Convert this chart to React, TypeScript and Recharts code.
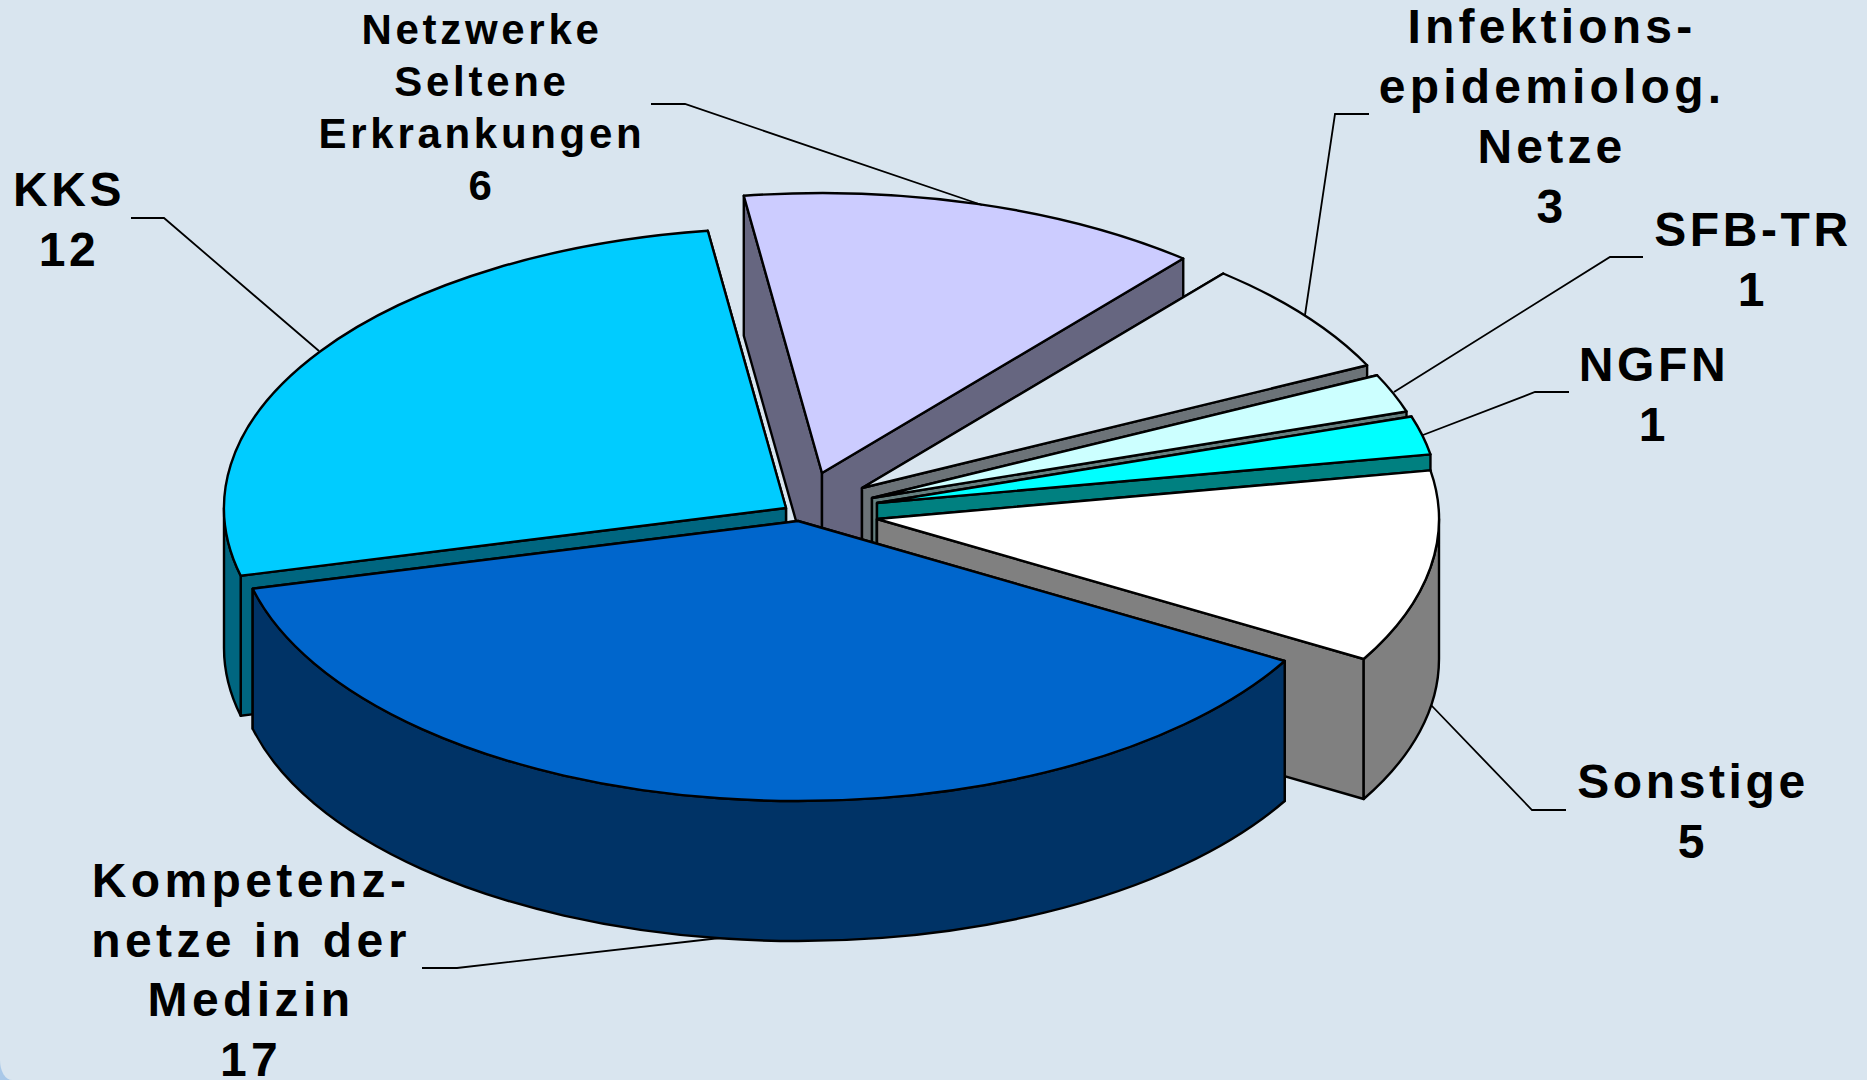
/**
 * Exploded 3D pie chart of network counts
 * Recharts computes the slice angles, the custom shape extrudes them
 */
import React from 'react';
import { PieChart, Pie } from 'recharts';

const WIDTH = 1867;
const HEIGHT = 1080;

// order starts at KKS so that the slices paint back to front
const categories = ['KKS', 'Netzwerke Seltene Erkrankungen', 'Infektionsepidemiolog. Netze', 'SFB-TR', 'NGFN', 'Sonstige', 'Kompetenznetze in der Medizin'];
const values = [12, 6, 3, 1, 1, 5, 17];

const topColors = ['#00CCFF', '#CCCCFF', '#D9E5EF', '#CCFFFF', '#00FFFF', '#FFFFFF', '#0066CC'];
const sideColors = ['#006680', '#666680', '#6C7378', '#668080', '#008080', '#808080', '#003366'];

const chartData = categories.map((name, i) => ({ name, value: values[i], fill: topColors[i] }));

// pie geometry
const CX = 820;
const CY = 500;
const RX = 562;
const SQUASH = 280 / 562;
const DEPTH = 140;

// where each slice's tip ended up after the explosion
const tips = [
  [786, 508],
  [822, 473],
  [862, 488],
  [872, 498],
  [877, 503],
  [877, 519],
  [798, 521],
];

// label text lines, centre x, first baseline, line height, font size, spacing
const labelLayout: any[] = [
  { lines: ['KKS'], x: 69, y: 206, dy: 60, size: 48, spacing: 3.6 },
  { lines: ['Netzwerke', 'Seltene', 'Erkrankungen'], x: 482, y: 44, dy: 52, size: 42, spacing: 3.7 },
  { lines: ['Infektions-', 'epidemiolog.', 'Netze'], x: 1552, y: 43, dy: 60, size: 48, spacing: 4.2 },
  { lines: ['SFB-TR'], x: 1753, y: 246, dy: 60, size: 48, spacing: 3.6 },
  { lines: ['NGFN'], x: 1654, y: 381, dy: 60, size: 48, spacing: 3.6 },
  { lines: ['Sonstige'], x: 1693, y: 798, dy: 60, size: 48, spacing: 3.6 },
  { lines: ['Kompetenz-', 'netze in der', 'Medizin'], x: 251, y: 897, dy: 59.5, size: 48, spacing: 4.4 },
];

const leaderLines = [
  '131,218 164,218 319,351',
  '651,104 685,104 982,205',
  '1369,114 1335,114 1305,315',
  '1643,257 1610,257 1394,392',
  '1569,392 1535,392 1423,435',
  '1566,810 1532,810 1431,705',
  '422,968 457,968 720,938',
];

const rad = (a: number) => (a * Math.PI) / 180;

const Slice3D = (props: any, index?: number) => {
  const i = index ?? props.index;
  const { startAngle, endAngle, outerRadius, fill } = props;
  const [tx, ty] = tips[i];
  const ry = outerRadius * SQUASH;
  const px = (a: number) => tx + outerRadius * Math.cos(rad(a));
  const py = (a: number) => ty - ry * Math.sin(rad(a));
  const arc = (a: number, sweep: number, dy = 0) =>
    `A${outerRadius},${ry} 0 0 ${sweep} ${px(a)},${py(a) + dy}`;

  const radialWall = (a: number) =>
    `M${tx},${ty} L${px(a)},${py(a)} v${DEPTH} L${tx},${ty + DEPTH} Z`;

  // the wall nearer the viewer goes on top of the other one
  const walls = [startAngle, endAngle].sort((a, b) => py(a) - py(b));

  // only the part of the rim on the near half of the ellipse is visible
  const rims: string[] = [];
  [[-180, 0], [180, 360]].forEach(([lo, hi]) => {
    const a1 = Math.min(startAngle, hi);
    const a2 = Math.max(endAngle, lo);
    if (a1 > a2) {
      rims.push(`M${px(a1)},${py(a1)} ${arc(a2, 1)} v${DEPTH} ${arc(a1, 0, DEPTH)} Z`);
    }
  });

  const large = Math.abs(startAngle - endAngle) > 180 ? 1 : 0;
  const top = `M${tx},${ty} L${px(startAngle)},${py(startAngle)} A${outerRadius},${ry} 0 ${large} 1 ${px(endAngle)},${py(endAngle)} Z`;

  return (
    <g stroke="#000" strokeWidth={2.4} strokeLinejoin="round">
      {walls.map((a) => (
        <path key={a} d={radialWall(a)} fill={sideColors[i]} />
      ))}
      {rims.map((d) => (
        <path key={d} d={d} fill={sideColors[i]} />
      ))}
      <path d={top} fill={fill} />
    </g>
  );
};

const renderLabel = (props: any) => {
  const l = labelLayout[props.index];
  const lines = [...l.lines, String(values[props.index])];
  return (
    <text
      key={`label-${props.index}`}
      textAnchor="middle"
      fontFamily="'Liberation Sans', Arial, sans-serif"
      fontWeight="bold"
      fontSize={l.size}
      letterSpacing={l.spacing}
      fill="#000"
    >
      {lines.map((t: string, n: number) => (
        <tspan key={t} x={l.x} y={l.y + n * l.dy}>
          {t}
        </tspan>
      ))}
    </text>
  );
};

const renderLine = (props: any) => (
  <polyline
    key={`line-${props.index}`}
    points={leaderLines[props.index]}
    fill="none"
    stroke="#000"
    strokeWidth={1.8}
  />
);

export default function App() {
  return (
    <div
      style={{
        position: 'absolute',
        left: 0,
        top: 0,
        width: WIDTH,
        height: HEIGHT,
        background: '#A9C8E8',
        overflow: 'hidden',
      }}
    >
      <div
        style={{
          position: 'absolute',
          inset: 0,
          background: '#D9E5EF',
          borderBottomLeftRadius: '12px 20px',
        }}
      >
        <PieChart width={WIDTH} height={HEIGHT} margin={{ top: 0, right: 0, bottom: 0, left: 0 }}>
          <Pie
            data={chartData}
            dataKey="value"
            nameKey="name"
            cx={CX}
            cy={CY}
            innerRadius={0}
            outerRadius={RX}
            startAngle={194}
            endAngle={-166}
            paddingAngle={0}
            shape={Slice3D}
            label={renderLabel}
            labelLine={renderLine}
            isAnimationActive={false}
          />
        </PieChart>
      </div>
    </div>
  );
}
